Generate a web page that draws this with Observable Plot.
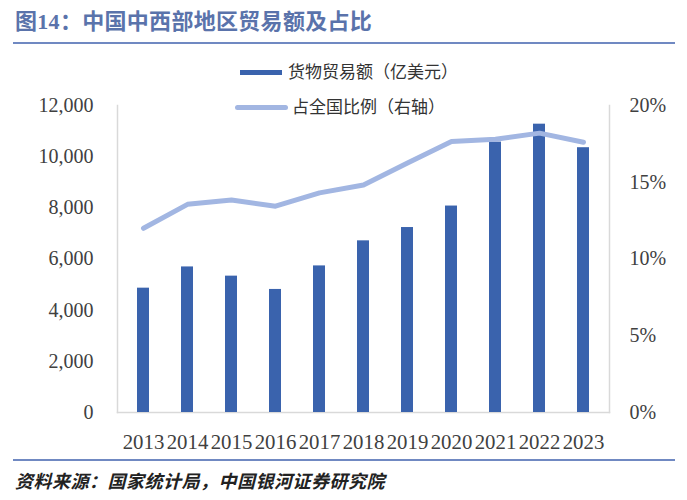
<!DOCTYPE html>
<html>
<head>
<meta charset="utf-8">
<script src="https://cdn.jsdelivr.net/npm/d3@7"></script>
<script src="https://cdn.jsdelivr.net/npm/@observablehq/plot@0.6"></script>
<style>
  html, body { margin: 0; padding: 0; background: #fff; }
  #wrap { position: relative; width: 687px; height: 500px; overflow: hidden; background: #fff; }
  .abs { position: absolute; white-space: nowrap; }
  #title { left: 15px; top: 11px; font: bold 22px/22px "Liberation Serif", "Noto Sans CJK SC", serif; color: #5a73ab; letter-spacing: 0.3px; }
  .rule { position: absolute; height: 2px; background: #7089c2; }
  .legtext { font: 17px/17px "Liberation Serif", "Noto Sans CJK SC", serif; color: #333; }
  #footer { left: 15px; top: 471px; font: italic bold 18px/18px "Noto Sans CJK SC", sans-serif; color: #222; letter-spacing: 0.5px; }
  #chart { position: absolute; left: 0; top: 50px; }
</style>
</head>
<body>
<div id="wrap">
  <div id="title" class="abs">图14：中国中西部地区贸易额及占比</div>
  <div class="rule" style="left:13px; top:42px; width:662px;"></div>
  <div id="chart"></div>
  <div id="legend"></div>
  <div class="rule" style="left:13px; top:459px; width:662px;"></div>
  <div id="footer" class="abs">资料来源：国家统计局，中国银河证券研究院</div>
</div>
<script>
// ---- data ----
const years = ["2013","2014","2015","2016","2017","2018","2019","2020","2021","2022","2023"];
const trade = [4860, 5690, 5330, 4810, 5730, 6710, 7230, 8070, 10570, 11270, 10350]; // 亿美元
const share = [12.0, 13.56, 13.84, 13.44, 14.31, 14.82, 16.25, 17.65, 17.8, 18.2, 17.61]; // %
const leftTicks = [0, 2000, 4000, 6000, 8000, 10000, 12000];
const rightTicks = [0, 5, 10, 15, 20];
const seriesNames = ["货物贸易额（亿美元）", "占全国比例（右轴）"];
const barColor = "#3a63ad";
const lineColor = "#a2b6e2";

const leftMax = 12000, rightMax = 20;
const k = leftMax / rightMax; // map % onto left scale

const rows = years.map((y, i) => ({year: y, trade: trade[i], share: share[i]}));

const chart = Plot.plot({
  width: 687,
  height: 405,
  marginTop: 55,
  marginBottom: 43,
  marginLeft: 117,
  marginRight: 78,
  style: {fontFamily: "'Liberation Serif', serif", fontSize: "20px", color: "#404040", background: "transparent"},
  x: {type: "band", domain: years, paddingInner: 0.72, paddingOuter: 0.36},
  y: {domain: [0, leftMax]},
  marks: [
    Plot.frame({anchor: "left", stroke: "#d9d9d9", strokeWidth: 1.5}),
    Plot.frame({anchor: "right", stroke: "#d9d9d9", strokeWidth: 1.5}),
    Plot.frame({anchor: "bottom", stroke: "#d9d9d9", strokeWidth: 1.5}),
    Plot.barY(rows, {x: "year", y: "trade", fill: barColor}),
    Plot.lineY(rows, {x: "year", y: d => d.share * k, stroke: lineColor, strokeWidth: 5, strokeLinecap: "round", strokeLinejoin: "round"}),
    Plot.axisY({anchor: "left", ticks: leftTicks, tickSize: 0, tickPadding: 24, tickFormat: d3.format(","), label: null}),
    Plot.axisY({anchor: "right", ticks: rightTicks.map(t => t * k), tickSize: 0, tickPadding: 20, tickFormat: v => `${Math.round(v / k)}%`, label: null}),
    Plot.axisX({tickSize: 0, tickPadding: 21.5, label: null, fontSize: 20.8})
  ]
});
document.getElementById("chart").appendChild(chart);

// ---- legend (HTML) ----
const legend = document.getElementById("legend");
const items = [
  {name: seriesNames[0], color: barColor, sx: 240, sw: 42, sh: 5, cy: 72.5, tx: 288, round: false},
  {name: seriesNames[1], color: lineColor, sx: 235, sw: 53, sh: 5, cy: 107.5, tx: 292, round: true}
];
for (const it of items) {
  const sw = document.createElement("div");
  sw.className = "abs";
  Object.assign(sw.style, {left: it.sx + "px", top: (it.cy - it.sh / 2) + "px", width: it.sw + "px", height: it.sh + "px", background: it.color, borderRadius: it.round ? "3px" : "0"});
  legend.appendChild(sw);
  const tx = document.createElement("div");
  tx.className = "abs legtext";
  tx.textContent = it.name;
  Object.assign(tx.style, {left: it.tx + "px", top: (it.cy - 9) + "px"});
  legend.appendChild(tx);
}
</script>
</body>
</html>
